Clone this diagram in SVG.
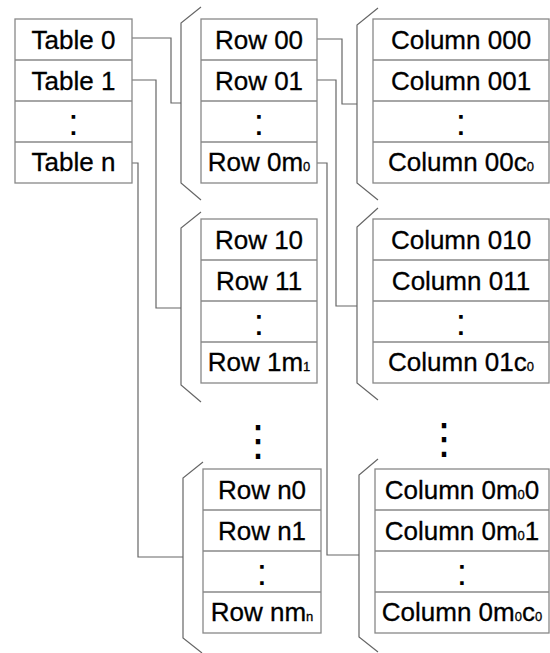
<svg xmlns="http://www.w3.org/2000/svg" width="550" height="653" viewBox="0 0 550 653">
  <style>
    .box { fill: #ffffff; stroke: #888888; stroke-width: 1.3; }
    .div { stroke: #888888; stroke-width: 1.3; }
    .wire { fill: none; stroke: #666666; stroke-width: 1.2; }
    .lbl { font-family: "Liberation Sans", Arial, sans-serif; font-size: 26px; fill: #000; text-anchor: middle; stroke: #000; stroke-width: 0.3; }
    .sub { font-size: 13px; }
    .colon { font-family: "Liberation Sans", Arial, sans-serif; font-size: 37px; fill: #000; text-anchor: middle; }
    .vdots { font-family: "DejaVu Sans", sans-serif; font-size: 42px; fill: #000; text-anchor: middle; }
  </style>

  <rect width="550" height="653" fill="#ffffff"/>

  <!-- connectors and brackets -->
  <g id="connectors">
    <path class="wire" d="M132,38 H171 V103 H181"/>
    <path class="wire" d="M132,80 H156 V308 H181"/>
    <path class="wire" d="M132,163 H138 V557 H183"/>
    <path class="wire" d="M317,39 H342 V104 H357"/>
    <path class="wire" d="M317,80 H336 V306 H357"/>
    <path class="wire" d="M317,163 H327 V555 H359"/>
    <!-- brackets around each group -->
    <path class="wire" d="M201,7 L181,23 V183 L201,200"/>
    <path class="wire" d="M201,212 L181,228 V385 L201,402"/>
    <path class="wire" d="M203,462 L183,478 V638 L202,653"/>
    <path class="wire" d="M378,8 L357,25 V183 L378,200"/>
    <path class="wire" d="M378,208 L357,227 V383 L378,400"/>
    <path class="wire" d="M378,459 L359,475 V637 L378,652"/>
  </g>

  <!-- table list -->
  <g id="tables">
    <rect class="box" x="15" y="19" width="117" height="164"/>
    <line class="div" x1="15" y1="60" x2="132" y2="60"/>
    <line class="div" x1="15" y1="101" x2="132" y2="101"/>
    <line class="div" x1="15" y1="142" x2="132" y2="142"/>
    <text class="lbl" x="73.5" y="49">Table 0</text>
    <text class="lbl" x="73.5" y="90">Table 1</text>
    <text class="colon" x="73.5" y="135">:</text>
    <text class="lbl" x="73.5" y="171">Table n</text>
  </g>

  <!-- rows of table 0 -->
  <g id="rows0">
    <rect class="box" x="201" y="19" width="116" height="164"/>
    <line class="div" x1="201" y1="60" x2="317" y2="60"/>
    <line class="div" x1="201" y1="101" x2="317" y2="101"/>
    <line class="div" x1="201" y1="142" x2="317" y2="142"/>
    <text class="lbl" x="259" y="49">Row 00</text>
    <text class="lbl" x="259" y="90">Row 01</text>
    <text class="colon" x="259" y="135">:</text>
    <text class="lbl" x="259" y="171">Row 0m<tspan class="sub">0</tspan></text>
  </g>

  <!-- rows of table 1 -->
  <g id="rows1">
    <rect class="box" x="201" y="219" width="116" height="164"/>
    <line class="div" x1="201" y1="260" x2="317" y2="260"/>
    <line class="div" x1="201" y1="301" x2="317" y2="301"/>
    <line class="div" x1="201" y1="342" x2="317" y2="342"/>
    <text class="lbl" x="259" y="249">Row 10</text>
    <text class="lbl" x="259" y="290">Row 11</text>
    <text class="colon" x="259" y="335">:</text>
    <text class="lbl" x="259" y="371">Row 1m<tspan class="sub">1</tspan></text>
  </g>

  <!-- rows of table n -->
  <g id="rowsN">
    <rect class="box" x="203" y="469" width="118" height="164"/>
    <line class="div" x1="203" y1="510" x2="321" y2="510"/>
    <line class="div" x1="203" y1="551" x2="321" y2="551"/>
    <line class="div" x1="203" y1="592" x2="321" y2="592"/>
    <text class="lbl" x="262" y="499">Row n0</text>
    <text class="lbl" x="262" y="540">Row n1</text>
    <text class="colon" x="262" y="585">:</text>
    <text class="lbl" x="262" y="621">Row nm<tspan class="sub">n</tspan></text>
  </g>

  <!-- columns of row 00 -->
  <g id="cols00">
    <rect class="box" x="373" y="19" width="176" height="164"/>
    <line class="div" x1="373" y1="60" x2="549" y2="60"/>
    <line class="div" x1="373" y1="101" x2="549" y2="101"/>
    <line class="div" x1="373" y1="142" x2="549" y2="142"/>
    <text class="lbl" x="461" y="49">Column 000</text>
    <text class="lbl" x="461" y="90">Column 001</text>
    <text class="colon" x="461" y="135">:</text>
    <text class="lbl" x="461" y="171">Column 00c<tspan class="sub">0</tspan></text>
  </g>

  <!-- columns of row 01 -->
  <g id="cols01">
    <rect class="box" x="373" y="219" width="176" height="164"/>
    <line class="div" x1="373" y1="260" x2="549" y2="260"/>
    <line class="div" x1="373" y1="301" x2="549" y2="301"/>
    <line class="div" x1="373" y1="342" x2="549" y2="342"/>
    <text class="lbl" x="461" y="249">Column 010</text>
    <text class="lbl" x="461" y="290">Column 011</text>
    <text class="colon" x="461" y="335">:</text>
    <text class="lbl" x="461" y="371">Column 01c<tspan class="sub">0</tspan></text>
  </g>

  <!-- columns of row 0m0 -->
  <g id="cols0m">
    <rect class="box" x="375" y="469" width="174" height="164"/>
    <line class="div" x1="375" y1="510" x2="549" y2="510"/>
    <line class="div" x1="375" y1="551" x2="549" y2="551"/>
    <line class="div" x1="375" y1="592" x2="549" y2="592"/>
    <text class="lbl" x="462" y="499">Column 0m<tspan class="sub">0</tspan>0</text>
    <text class="lbl" x="462" y="540">Column 0m<tspan class="sub">0</tspan>1</text>
    <text class="colon" x="462" y="585">:</text>
    <text class="lbl" x="462" y="621">Column 0m<tspan class="sub">0</tspan>c<tspan class="sub">0</tspan></text>
  </g>

  <!-- vertical ellipses between groups -->
  <g id="more">
    <text class="vdots" x="258" y="455">⋮</text>
    <text class="vdots" x="444" y="453">⋮</text>
  </g>
</svg>
